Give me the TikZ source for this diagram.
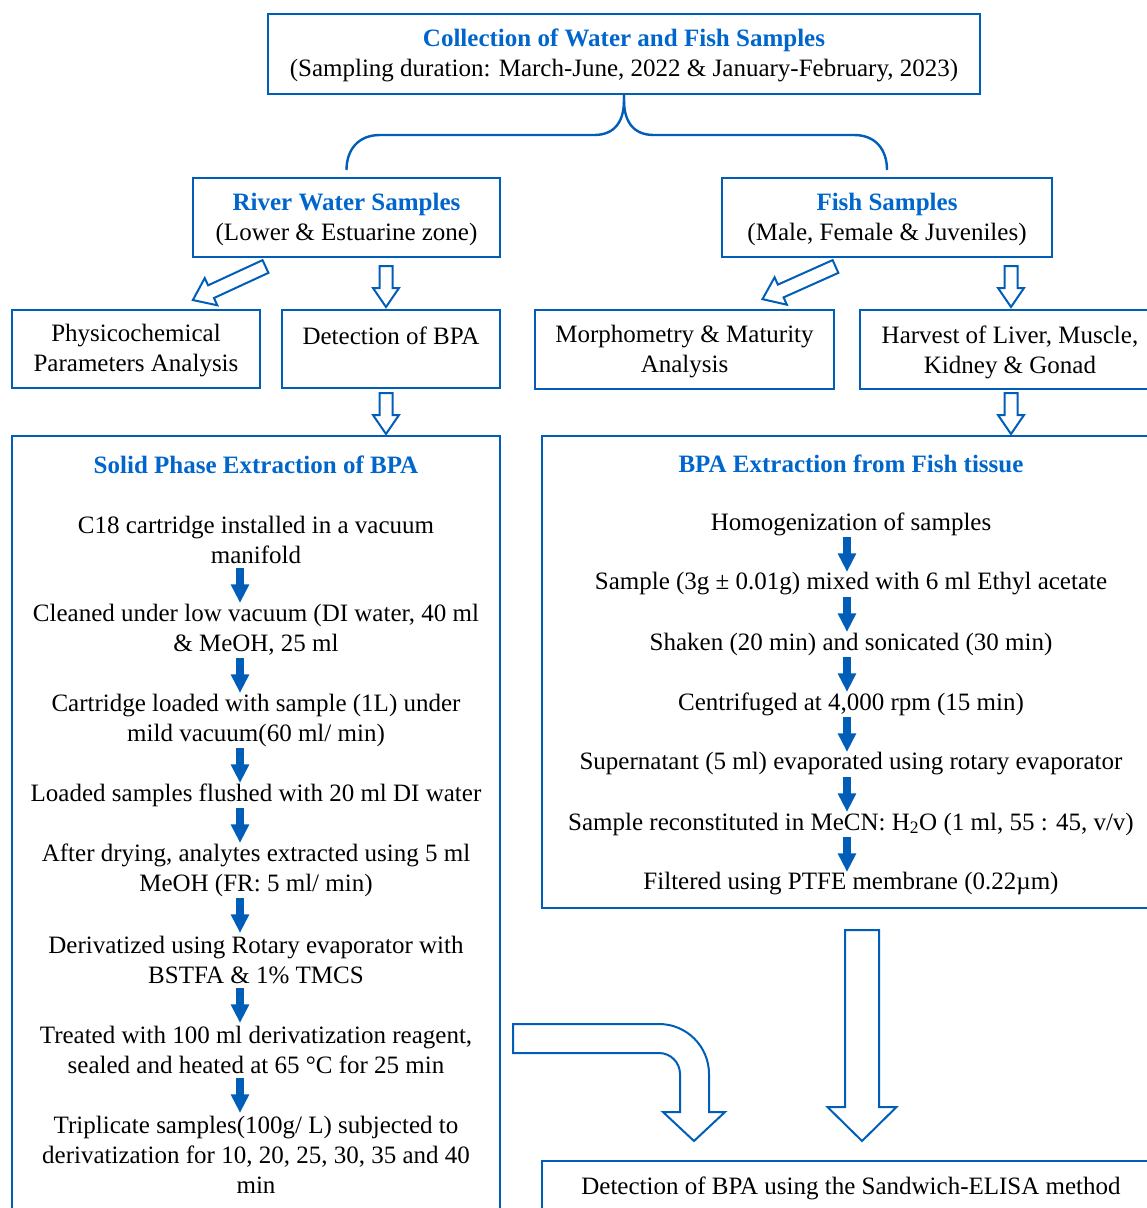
\documentclass[tikz,border=0pt]{standalone}
\usepackage{fontspec}
\setmainfont{Liberation Serif}
\usetikzlibrary{arrows.meta,fit,calc}
\definecolor{bblue}{RGB}{0,94,184}
\definecolor{tblue}{RGB}{0,102,204}
\begin{document}
\begin{tikzpicture}[x=0.75pt,y=-0.75pt,
  font=\fontsize{18.75}{22.5}\selectfont,
  box/.style={draw=bblue,line width=1.8pt,inner sep=0pt,outer sep=0pt},
  txt/.style={align=center,inner sep=0pt,outer sep=0pt,text=black},
  ttl/.style={txt,text=tblue,font=\fontsize{18.75}{22.5}\selectfont\bfseries},
  conn/.style={draw=bblue,line width=1.8pt},
  harrow/.style={draw=bblue,line width=1.5pt,line join=miter,fill=white},
  sarrow/.style={draw=bblue,line width=6pt,-{Triangle[width=13pt,length=14pt]}},
  pics/blockarrow/.style n args={4}{code={\path[harrow] (0,-#2) -- ({#1-#4},-#2) -- ({#1-#4},-#3) -- (#1,0) -- ({#1-#4},#3) -- ({#1-#4},#2) -- (0,#2) -- cycle;}}
]
\useasboundingbox (0,0) rectangle (1147,1208);
\clip (0,0) rectangle (1147,1208);

% ---------- top ----------
\node[box,fit={(268,14)(980,94)}] (top) {};
\node[txt] (topt) at (624,55.5) {\textcolor{tblue}{\bfseries Collection of Water and Fish Samples}\\(Sampling duration: March-June, 2022 \& January-February, 2023)};

% ---------- second row ----------
\node[box,fit={(193,178)(500,257)}] (river) {};
\node[txt] (rivert) at (346.5,219) {\textcolor{tblue}{\bfseries River Water Samples}\\(Lower \& Estuarine zone)};
\node[box,fit={(722,178)(1052,257)}] (fish) {};
\node[txt] (fisht) at (887,219) {\textcolor{tblue}{\bfseries Fish Samples}\\(Male, Female \& Juveniles)};

% brace
\draw[conn] (top.south) -- ++(0,6) .. controls +(0,20) and +(22,0) .. (594,135) -- (380,135) .. controls +(-22,0) and +(0,-20) .. ($(river.north)+(0,-8)$);
\draw[conn] (top.south) -- ++(0,6) .. controls +(0,20) and +(-22,0) .. (654,135) -- (854,135) .. controls +(22,0) and +(0,-20) .. ($(fish.north)+(0,-8)$);

% ---------- third row ----------
\node[box,fit={(12,310)(260,388)}] (phys) {};
\node[txt] (physt) at (136,351) {Physicochemical\\Parameters Analysis};
\node[box,fit={(282,310)(500,388)}] (det) {};
\node[txt] (dett) at (391,336) {Detection of BPA};
\node[box,fit={(535,310)(834,389)}] (morph) {};
\node[txt] (morpht) at (684.5,352) {Morphometry \& Maturity\\Analysis};
\node[box,fit={(860,310)(1160,389)}] (harv) {};
\node[txt] (harvt) at (1010,352) {Harvest of Liver, Muscle,\\Kidney \& Gonad};

\pic[rotate=204.8] at (265.5,266.5) {blockarrow={80}{7}{15}{20}};
\pic[rotate=-90] at (386,266) {blockarrow={41}{6.5}{13}{19}};
\pic[rotate=204.1] at (835.5,266.5) {blockarrow={80}{7}{15}{20}};
\pic[rotate=-90] at (1011,266) {blockarrow={41}{6.5}{13}{19}};
\pic[rotate=-90] at (386,393) {blockarrow={41}{6.5}{13}{19}};
\pic[rotate=-90] at (1011,393) {blockarrow={41}{6.5}{13}{19}};

% ---------- SPE box ----------
\node[box,fit={(12,436)(500,1225)}] (spe) {};
\node[ttl] (spet) at (256,465) {Solid Phase Extraction of BPA};
\node[txt] (s1) at (256,540) {C18 cartridge installed in a vacuum\\manifold};
\node[txt] (s2) at (256,630) {Cleaned under low vacuum (DI water, 40 ml\\\& MeOH, 25 ml};
\node[txt] (s3) at (256,720) {Cartridge loaded with sample (1L) under\\mild vacuum(60 ml/ min)};
\node[txt] (s4) at (256,795) {Loaded samples flushed with 20 ml DI water};
\node[txt] (s5) at (256,870) {After drying, analytes extracted using 5 ml\\MeOH (FR: 5 ml/ min)};
\node[txt] (s6) at (256,960) {Derivatized using Rotary evaporator with\\BSTFA \& 1\% TMCS};
\node[txt] (s7) at (256,1050) {Treated with 100 ml derivatization reagent,\\sealed and heated at 65 °C for 25 min};
\node[txt] (s8) at (256,1155) {Triplicate samples(100g/ L) subjected to\\derivatization for 10, 20, 25, 30, 35 and 40\\min};

\draw[sarrow] ($(s1.center)+(-16,28)$) -- ($(s2.center)+(-16,-27)$);
\draw[sarrow] ($(s2.center)+(-16,28)$) -- ($(s3.center)+(-16,-27)$);
\draw[sarrow] ($(s3.center)+(-16,28)$) -- ($(s4.center)+(-16,-12)$);
\draw[sarrow] ($(s4.center)+(-16,13)$) -- ($(s5.center)+(-16,-27)$);
\draw[sarrow] ($(s5.center)+(-16,28)$) -- ($(s6.center)+(-16,-27)$);
\draw[sarrow] ($(s6.center)+(-16,28)$) -- ($(s7.center)+(-16,-27)$);
\draw[sarrow] ($(s7.center)+(-16,28)$) -- ($(s8.center)+(-16,-42)$);

% ---------- fish tissue box ----------
\node[box,fit={(542,436)(1160,908)}] (ft) {};
\node[ttl] (ftt) at (851,464) {BPA Extraction from Fish tissue};
\node[txt] (r1) at (851,524) {Homogenization of samples};
\node[txt] (r2) at (851,584) {Sample (3g ± 0.01g) mixed with 6 ml Ethyl acetate};
\node[txt] (r3) at (851,644) {Shaken (20 min) and sonicated (30 min)};
\node[txt] (r4) at (851,704) {Centrifuged at 4,000 rpm (15 min)};
\node[txt] (r5) at (851,764) {Supernatant (5 ml) evaporated using rotary evaporator};
\node[txt] (r6) at (851,824) {Sample reconstituted in MeCN: H\textsubscript{2}O (1 ml, 55 : 45, v/v)};
\node[txt] (r7) at (851,884) {Filtered using PTFE membrane (0.22µm)};

\foreach \a/\b in {r1/r2,r2/r3,r3/r4,r4/r5,r5/r6,r6/r7}
  \draw[sarrow] ($(\a.center)+(-4,13)$) -- ($(\b.center)+(-4,-12)$);

% ---------- bottom ----------
\node[box,fit={(542,1161)(1160,1225)}] (elisa) {};
\node[txt] (elisat) at (851,1188) {Detection of BPA using the Sandwich-ELISA method};

\pic[rotate=-90] at (862,930) {blockarrow={211}{17}{34.5}{34}};
\path[harrow] (513,1024) -- (659,1024) arc[start angle=-90,end angle=0,radius=50] -- (709,1112) -- (725,1112) -- (694,1141) -- (663,1112) -- (680,1112) -- (680,1074) arc[start angle=0,end angle=-90,radius=21] -- (513,1053) -- cycle;
\end{tikzpicture}
\end{document}
